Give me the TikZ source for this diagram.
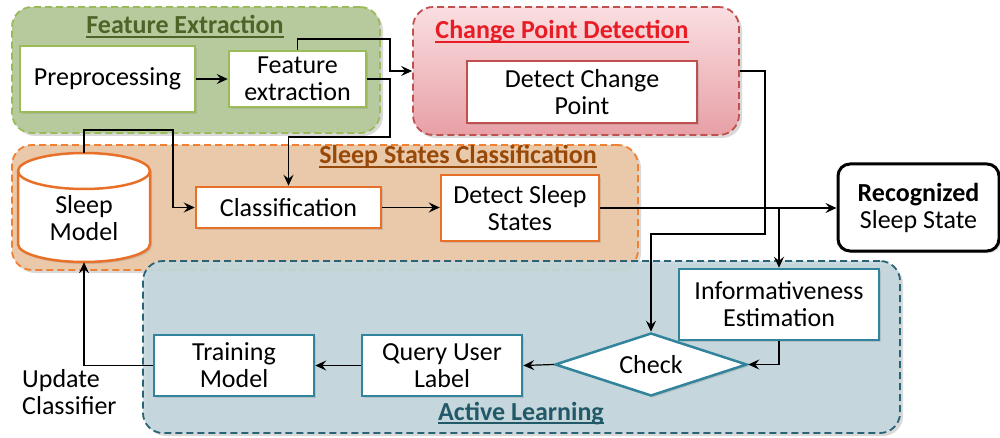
\documentclass[tikz,border=0pt]{standalone}
\usepackage{fontspec}
\setmainfont{Carlito}
\usetikzlibrary{shapes.geometric,arrows.meta,shadows,calc}
\definecolor{feFill}{RGB}{183,202,157}
\definecolor{feLine}{RGB}{155,187,89}
\definecolor{feTitle}{RGB}{79,98,40}
\definecolor{cpTop}{RGB}{250,222,225}
\definecolor{cpBot}{RGB}{231,160,166}
\definecolor{cpLine}{RGB}{192,80,77}
\definecolor{cpTitle}{RGB}{232,28,36}
\definecolor{ssFill}{RGB}{233,201,170}
\definecolor{ssLine}{RGB}{240,128,50}
\definecolor{ssBox}{RGB}{232,112,40}
\definecolor{ssTitle}{RGB}{152,72,7}
\definecolor{alFill}{RGB}{196,216,221}
\definecolor{alLine}{RGB}{42,98,118}
\definecolor{alBox}{RGB}{49,132,155}
\definecolor{alTitle}{RGB}{33,89,104}
\begin{document}
\begin{tikzpicture}[x=1pt,y=1pt, font=\fontsize{26}{27}\selectfont,
 group/.style={rounded corners=20pt, dash pattern=on 7pt off 4pt, line width=1.8pt, inner sep=0,
   drop shadow={opacity=0.3,shadow xshift=3pt,shadow yshift=-3pt}},
 box/.style={draw, fill=white, line width=2.5pt, align=center, inner sep=0,
   drop shadow={opacity=0.25,shadow xshift=2pt,shadow yshift=-2pt}},
 ttl/.style={font=\fontsize{26}{27}\selectfont\bfseries, inner sep=0, anchor=base},
 uline/.style={line width=1.2pt},
 arr/.style={line width=1.2pt, -{Stealth[length=11pt,width=10pt,inset=4pt]}}]
\useasboundingbox (0,0) rectangle (1000,-438);
% groups
\node[group, draw=feLine, fill=feFill, minimum width=368pt, minimum height=126pt] (gFE) at (196,-70) {};
\node[group, draw=cpLine, top color=cpTop, bottom color=cpBot, minimum width=326pt, minimum height=128pt] (gCP) at (576,-71) {};
\node[group, draw=ssLine, fill=ssFill, minimum width=626pt, minimum height=125pt] (gSS) at (325,-207.5) {};
\node[group, draw=alLine, fill=alFill, fill opacity=0.92, minimum width=757pt, minimum height=172pt] (gAL) at (521.5,-347) {};
% titles
\node[ttl, text=feTitle] (tFE) at (185,-34) {Feature Extraction};
\draw[uline, feTitle] ([yshift=-3pt]tFE.base west) -- ([yshift=-3pt]tFE.base east);
\node[ttl, text=cpTitle] (tCP) at (562,-39) {Change Point Detection};
\draw[uline, cpTitle] ([yshift=-3pt]tCP.base west) -- ([yshift=-3pt]tCP.base east);
\node[ttl, text=ssTitle] (tSS) at (458,-164) {Sleep States Classification};
\draw[uline, ssTitle] ([yshift=-3pt]tSS.base west) -- ([yshift=-3pt]tSS.base east);
\node[ttl, text=alTitle] (tAL) at (521,-420) {Active Learning};
\draw[uline, alTitle] ([yshift=-3pt]tAL.base west) -- ([yshift=-3pt]tAL.base east);
% cylinder
\path[draw=ssBox, fill=white, line width=2.5pt, drop shadow={opacity=0.25,shadow xshift=2pt,shadow yshift=-2pt}]
  (18,-171) -- (18,-244) arc[start angle=180, end angle=360, x radius=66pt, y radius=18pt]
  -- (150,-171) arc[start angle=0, end angle=180, x radius=66pt, y radius=18pt] -- cycle;
\draw[ssBox, line width=2.5pt] (18,-171) arc[start angle=180, end angle=360, x radius=66pt, y radius=18pt];
\node[minimum width=132pt, minimum height=109pt, inner sep=0] (sm) at (84,-207.5) {};
\node[align=center, inner sep=0] (smt) at (84,-218) {Sleep\\Model};
% boxes
\node[box, draw=feLine, minimum width=175pt, minimum height=66pt] (pre) at (107.5,-79) {Preprocessing};
\node[box, draw=feLine, minimum width=137pt, minimum height=56pt] (fe) at (297.5,-79) {Feature\\extraction};
\node[box, draw=cpLine, minimum width=230pt, minimum height=62pt] (dcp) at (582,-92) {Detect Change\\Point};
\node[box, draw=ssBox, minimum width=185pt, minimum height=41pt] (cls) at (288.5,-207.5) {Classification};
\node[box, draw=ssBox, minimum width=158pt, minimum height=66pt] (dss) at (520,-208) {Detect Sleep\\States};
\node[box, draw=black, line width=3pt, rounded corners=12pt, minimum width=161pt, minimum height=87pt] (rec) at (918.5,-207.5) {\textbf{Recognized}\\Sleep State};
\node[box, draw=alBox, minimum width=200pt, minimum height=71pt] (inf) at (779,-304.5) {Informativeness\\Estimation};
\node[box, draw=alBox, shape=diamond, aspect=3, minimum width=192pt, minimum height=63pt] (chk) at (651,-364.5) {Check};
\node[box, draw=alBox, minimum width=160pt, minimum height=61pt] (qul) at (442,-365.5) {Query User\\Label};
\node[box, draw=alBox, minimum width=160pt, minimum height=61pt] (trm) at (234,-365.5) {Training\\Model};
\node[align=left, anchor=west, inner sep=0] (upd) at (22,-392) {Update\\Classifier};
% connectors
\draw[arr] (pre.east) -- (fe.west);
\draw[arr] (fe.north) |- (390,-39) |- (gCP.west);
\draw[arr] (fe.east) -| (390,-137) -| (cls.north);
\draw[arr] (sm.north) |- (173,-130) |- (cls.west);
\draw[arr] (cls.east) -- (cls.east -| dss.west);
\draw[arr] (dss.east) -- (dss.east -| rec.west);
\coordinate (br) at (inf.north |- dss.east);
\draw[arr] (br) -- (inf.north);
\draw[arr] (gCP.east) -- ++(25,0) -- ++(0,-163) -| (chk.north);
\draw[arr] (inf.south) |- (chk.east);
\draw[arr] (chk.west) -- (qul.east);
\draw[arr] (qul.west) -- (trm.east);
\draw[arr] (trm.west) -| (sm.south);
\end{tikzpicture}
\end{document}
